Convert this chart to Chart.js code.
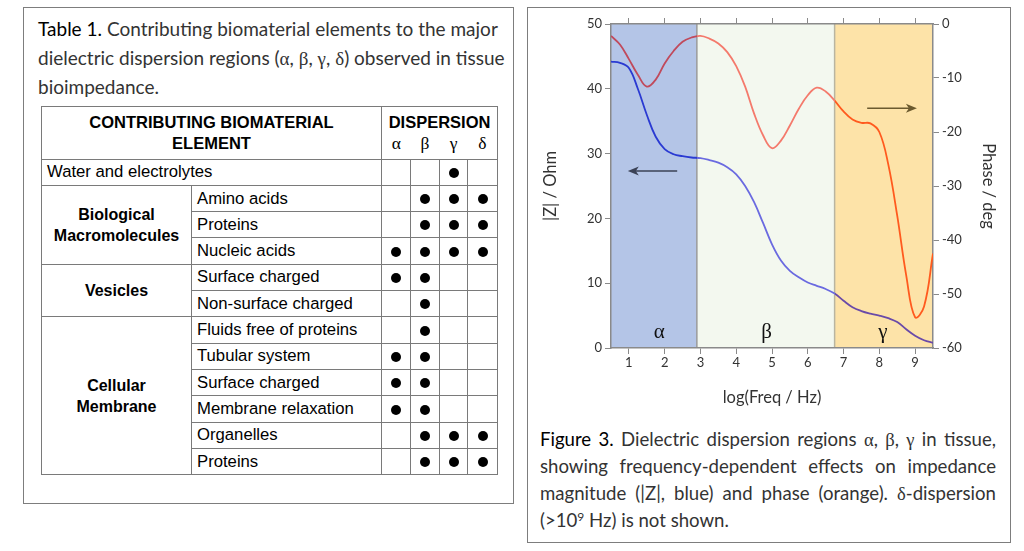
<!DOCTYPE html>
<html>
<head>
<meta charset="utf-8">
<script src="https://cdn.jsdelivr.net/npm/chart.js@4.4.0/dist/chart.umd.min.js"></script>
<style>
html, body { margin: 0; padding: 0; background: #fff; }
#page { position: relative; width: 1024px; height: 551px; overflow: hidden; font-family: Lato, "Open Sans", sans-serif; }
.box { position: absolute; border: 1.5px solid #7d7d7d; box-sizing: border-box; }
#leftBox { left: 23px; top: 7px; width: 491px; height: 497px; }
#rightBox { left: 527px; top: 7px; width: 484px; height: 536px; }
.cap { position: absolute; font-size: 19px; color: #333; }
.cap b { font-weight: normal; color: #000; }
.gr { font-family: "Liberation Serif", "DejaVu Serif", serif; }
#tcap { left: 38px; top: 15px; width: 472px; line-height: 28.5px; }
#fcap { left: 540px; top: 426px; width: 456px; line-height: 27px; text-align: justify; font-size: 18.6px; }
#fcap sup { font-size: 12px; line-height: 0; vertical-align: 6px; }
#tbl { position: absolute; left: 41px; top: 106px; width: 456px; border-collapse: collapse; table-layout: fixed;
       font-family: "Liberation Sans", Arial, sans-serif; font-size: 16.7px; color: #000; }
#tbl td, #tbl th { border: 1px solid #7a7a7a; padding: 0; }
#tbl tr { height: 26.3px; }
#tbl th { font-size: 16.5px; font-weight: bold; text-align: center; line-height: 21px; }
#tbl th.disp { border-bottom: hidden; vertical-align: bottom; }
#tbl th.gk { font-family: "Liberation Serif", serif; font-weight: normal; font-size: 17.5px; border-top: hidden; vertical-align: top; }
#tbl th.inner { border-left: hidden; }
#tbl td.el { padding-left: 5px; white-space: nowrap; }
#tbl td.grp { font-weight: bold; text-align: center; line-height: 21px; font-size: 16px; }
#tbl td.mk { text-align: center; }
.dot { display: inline-block; width: 10px; height: 10px; border-radius: 50%; background: #000; vertical-align: middle; }
#chart { position: absolute; left: 540px; top: 10px; }
</style>
</head>
<body>
<div id="page">
  <div class="box" id="leftBox"></div>
  <div class="box" id="rightBox"></div>
  <div class="cap" id="tcap"><b>Table 1.</b> Contributing biomaterial elements to the major dielectric dispersion regions (<span class="gr">α</span>, <span class="gr">β</span>, <span class="gr">γ</span>, <span class="gr">δ</span>) observed in tissue bioimpedance.</div>
  <table id="tbl"></table>
  <canvas id="chart" width="460" height="402"></canvas>
  <div class="cap" id="fcap"><b>Figure 3.</b> Dielectric dispersion regions <span class="gr">α</span>, <span class="gr">β</span>, <span class="gr">γ</span> in tissue, showing frequency-dependent effects on impedance magnitude (|Z|, blue) and phase (orange). <span class="gr">δ</span>-dispersion (&gt;10<sup>9</sup> Hz) is not shown.</div>
</div>
<script>
// table 1 contents
const groupNames = [[], ["Biological", "Macromolecules"], ["Vesicles"], ["Cellular", "Membrane"]];
const rowGroup = [0, 1, 1, 1, 2, 2, 3, 3, 3, 3, 3, 3];
const rowElement = ["Water and electrolytes", "Amino acids", "Proteins", "Nucleic acids", "Surface charged",
  "Non-surface charged", "Fluids free of proteins", "Tubular system", "Surface charged",
  "Membrane relaxation", "Organelles", "Proteins"];
// alpha, beta, gamma, delta
const rowMarks = ["0010", "0111", "0111", "1111", "1100", "0100", "0100", "1100", "1100", "1100", "0111", "0111"];
const dispersionLabels = ["α", "β", "γ", "δ"];

// figure 3 data
const freqLog = [0.5, 0.75, 1.0, 1.25, 1.5, 1.75, 2.0, 2.25, 2.5, 2.75, 3.0, 3.25, 3.5, 3.75, 4.0, 4.25, 4.5, 4.75,
  5.0, 5.25, 5.5, 5.75, 6.0, 6.25, 6.5, 6.75, 7.0, 7.25, 7.5, 7.75, 8.0, 8.25, 8.5, 8.75, 9.0, 9.25, 9.5];
const impedanceZ = [44.2, 44.0, 43.2, 40.0, 36.0, 32.6, 30.7, 29.9, 29.6, 29.4, 29.3, 29.0, 28.6, 27.9, 26.8, 25.0,
  22.5, 19.3, 16.0, 13.5, 11.9, 10.9, 10.1, 9.6, 9.1, 8.4, 7.3, 6.3, 5.7, 5.3, 5.0, 4.6, 4.0, 2.9, 1.9, 1.2, 0.8];
const phaseDeg = [-2.2, -3.8, -6.5, -9.4, -11.6, -10.3, -7.3, -5.0, -3.3, -2.5, -2.2, -2.7, -3.6, -5.2, -7.8, -11.6,
  -16.6, -20.6, -23.0, -21.6, -18.8, -15.7, -13.2, -11.8, -12.5, -14.2, -16.2, -17.7, -18.3, -18.4, -20.0, -26.0,
  -35.5, -46.5, -54.3, -52.3, -42.5];
const xTickValues = [1, 2, 3, 4, 5, 6, 7, 8, 9];
const regionNames = ["α", "β", "γ"];
const regionStart = [0.5, 2.9, 6.75];
const regionEnd = [2.9, 6.75, 9.5];

// styling
const regionFill = ["#b4c5e7", "#f3f8ef", "#fde3a8"];
const regionEdge = ["#8a8f9a", "#9a9a9a", "#b9b5a0"];
const zColors = ["#2a3ad2", "#6a6ae0", "#6a4aa8"];
const phaseColors = ["#c04a5c", "#f47a6c", "#ff5a1e"];
const axisGray = "#8a8a8a";
const tickFont = { family: "Lato", size: 13 };
const titleFont = { family: "Lato", size: 16.5 };
const labelPos = { x: [1.85, 4.85, 8.1], z: 2.4 };
const zArrow = { from: 2.35, to: 0.97, z: 27.3, color: "#3b4256" };
const phaseArrow = { from: 7.66, to: 9.05, deg: -15.6, color: "#6b5a2e" };

// build table
let html = '<colgroup><col style="width:150px"><col style="width:190px"><col style="width:29px"><col style="width:29px"><col style="width:28px"><col style="width:30px"></colgroup>';
html += '<tr><th colspan="2" rowspan="2">CONTRIBUTING BIOMATERIAL<br>ELEMENT</th><th colspan="4" class="disp">DISPERSION</th></tr><tr>';
dispersionLabels.forEach((g, i) => { html += `<th class="gk${i ? " inner" : ""}">${g}</th>`; });
html += "</tr>";
rowElement.forEach((name, i) => {
  const g = rowGroup[i];
  html += "<tr>";
  if (g === 0) {
    html += `<td colspan="2" class="el">${name}</td>`;
  } else {
    if (i === 0 || rowGroup[i - 1] !== g) {
      const span = rowGroup.filter(v => v === g).length;
      html += `<td rowspan="${span}" class="grp">${groupNames[g].join("<br>")}</td>`;
    }
    html += `<td class="el">${name}</td>`;
  }
  rowMarks[i].split("").forEach(m => { html += `<td class="mk">${m === "1" ? '<span class="dot"></span>' : ""}</td>`; });
  html += "</tr>";
});
document.getElementById("tbl").innerHTML = html;

// line colour changes at the region borders
function regionGradient(context, colors) {
  const chart = context.chart;
  const area = chart.chartArea;
  if (!area) return colors[0];
  const xs = chart.scales.x;
  const grad = chart.ctx.createLinearGradient(area.left, 0, area.right, 0);
  const w = area.right - area.left;
  regionStart.forEach((s, i) => {
    const a = Math.min(Math.max((xs.getPixelForValue(s) - area.left) / w, 0), 1);
    const b = Math.min(Math.max((xs.getPixelForValue(regionEnd[i]) - area.left) / w, 0), 1);
    grad.addColorStop(a, colors[i]);
    grad.addColorStop(b, colors[i]);
  });
  return grad;
}

function drawArrow(ctx, x1, y1, x2, y2, color) {
  const dir = Math.sign(x2 - x1);
  ctx.save();
  ctx.strokeStyle = color;
  ctx.fillStyle = color;
  ctx.lineWidth = 1.5;
  ctx.beginPath();
  ctx.moveTo(x1, y1);
  ctx.lineTo(x2 - dir * 4, y2);
  ctx.stroke();
  ctx.beginPath();
  ctx.moveTo(x2, y2);
  ctx.lineTo(x2 - dir * 11, y2 - 4.5);
  ctx.lineTo(x2 - dir * 8, y2);
  ctx.lineTo(x2 - dir * 11, y2 + 4.5);
  ctx.closePath();
  ctx.fill();
  ctx.restore();
}

const regionsPlugin = {
  id: "regions",
  beforeDraw(chart) {
    const { ctx, chartArea: a, scales } = chart;
    ctx.save();
    regionStart.forEach((s, i) => {
      const x1 = scales.x.getPixelForValue(s);
      const x2 = scales.x.getPixelForValue(regionEnd[i]);
      ctx.fillStyle = regionFill[i];
      ctx.fillRect(x1, a.top, x2 - x1, a.bottom - a.top);
    });
    regionStart.forEach((s, i) => {
      if (i === 0) return;
      const x = scales.x.getPixelForValue(s);
      ctx.strokeStyle = regionEdge[i];
      ctx.lineWidth = 1.5;
      ctx.beginPath();
      ctx.moveTo(x, a.top);
      ctx.lineTo(x, a.bottom);
      ctx.stroke();
    });
    ctx.restore();
  },
  afterDatasetsDraw(chart) {
    const { ctx, scales } = chart;
    ctx.save();
    ctx.fillStyle = "#111";
    ctx.font = '21px "Liberation Serif", serif';
    ctx.textAlign = "center";
    ctx.textBaseline = "middle";
    regionNames.forEach((n, i) => {
      ctx.fillText(n, scales.x.getPixelForValue(labelPos.x[i]), scales.y.getPixelForValue(labelPos.z));
    });
    ctx.restore();
    drawArrow(ctx, scales.x.getPixelForValue(zArrow.from), scales.y.getPixelForValue(zArrow.z),
      scales.x.getPixelForValue(zArrow.to), scales.y.getPixelForValue(zArrow.z), zArrow.color);
    drawArrow(ctx, scales.x.getPixelForValue(phaseArrow.from), scales.y2.getPixelForValue(phaseArrow.deg),
      scales.x.getPixelForValue(phaseArrow.to), scales.y2.getPixelForValue(phaseArrow.deg), phaseArrow.color);
  }
};

const setXTicks = s => { s.ticks = xTickValues.map(v => ({ value: v })); };

new Chart(document.getElementById("chart"), {
  type: "line",
  data: {
    datasets: [
      {
        label: "|Z|",
        data: freqLog.map((x, i) => ({ x: x, y: impedanceZ[i] })),
        yAxisID: "y",
        borderColor: c => regionGradient(c, zColors),
        borderWidth: 1.8,
        pointRadius: 0,
        tension: 0.4,
        fill: false
      },
      {
        label: "Phase",
        data: freqLog.map((x, i) => ({ x: x, y: phaseDeg[i] })),
        yAxisID: "y2",
        borderColor: c => regionGradient(c, phaseColors),
        borderWidth: 1.8,
        pointRadius: 0,
        tension: 0.4,
        fill: false
      }
    ]
  },
  options: {
    responsive: false,
    animation: false,
    layout: { padding: { top: 8, left: 0, right: 0, bottom: 0 } },
    plugins: { legend: { display: false }, tooltip: { enabled: false } },
    scales: {
      x: {
        type: "linear", position: "bottom", min: 0.5, max: 9.5,
        afterBuildTicks: setXTicks,
        afterFit: s => { s.height = 64; },
        grid: { drawOnChartArea: false, tickLength: 6, color: axisGray },
        border: { color: axisGray, width: 1.5 },
        ticks: { font: tickFont, color: "#333", padding: 1 },
        title: { display: true, text: "log(Freq / Hz)", font: titleFont, color: "#333", padding: { top: 0, bottom: 4 } }
      },
      xTop: {
        type: "linear", position: "top", min: 0.5, max: 9.5,
        afterBuildTicks: setXTicks,
        afterFit: s => { s.height = 6; },
        grid: { drawOnChartArea: false, tickLength: 6, color: axisGray },
        border: { color: axisGray, width: 1.5 },
        ticks: { display: false }
      },
      y: {
        position: "left", min: 0, max: 50,
        afterFit: s => { s.width = 71; },
        grid: { drawOnChartArea: false, tickLength: 6, color: axisGray },
        border: { color: axisGray, width: 1.5 },
        ticks: { stepSize: 10, font: tickFont, color: "#333", padding: 3 },
        title: { display: true, text: "|Z| / Ohm", font: titleFont, color: "#333", padding: { top: 1, bottom: 0 } }
      },
      y2: {
        position: "right", min: -60, max: 0,
        afterFit: s => { s.width = 67; },
        grid: { drawOnChartArea: false, tickLength: 6, color: axisGray },
        border: { color: axisGray, width: 1.5 },
        ticks: { stepSize: 10, font: tickFont, color: "#333", padding: 3 },
        title: { display: true, text: "Phase / deg", font: titleFont, color: "#333", padding: { top: 2, bottom: 0 } }
      }
    }
  },
  plugins: [regionsPlugin]
});
</script>
</body>
</html>
